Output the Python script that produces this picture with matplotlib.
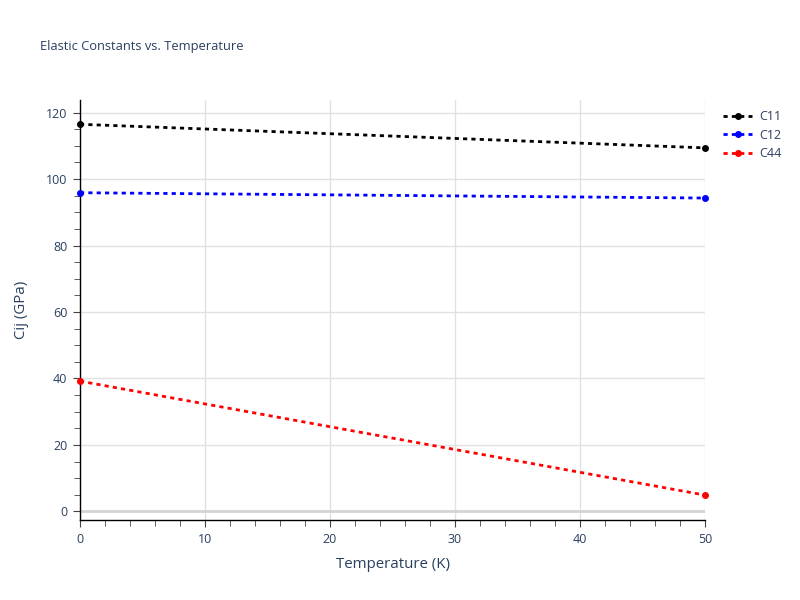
import matplotlib
matplotlib.use("Agg")
import matplotlib.pyplot as plt
from matplotlib.ticker import MultipleLocator

plt.rcParams["font.family"] = ["Open Sans", "DejaVu Sans"]

# data
temperature = [0, 50]
c11 = [116.5, 109.4]
c12 = [95.9, 94.3]
c44 = [39.2, 4.9]

series = [("C11", c11, "black"), ("C12", c12, "blue"), ("C44", c44, "red")]
text_col = "#2a3f5f"

fig = plt.figure(figsize=(8, 6), dpi=100)
ax = fig.add_axes([0.1, 0.1333, 0.78125, 0.70])

for name, vals, col in series:
    ax.plot(temperature, vals, color=col, lw=2, dashes=(1.5, 1.5),
            dash_capstyle="butt", marker="o", ms=4, label=name,
            clip_on=False, zorder=3)

ax.set_xlim(0, 50)
ax.set_ylim(-2.6, 123.8)
ax.xaxis.set_major_locator(MultipleLocator(10))
ax.xaxis.set_minor_locator(MultipleLocator(2))
ax.yaxis.set_major_locator(MultipleLocator(20))
ax.yaxis.set_minor_locator(MultipleLocator(5))

ax.grid(True, which="major", color="#e1e1e1", lw=1)
ax.set_axisbelow(True)
ax.axhline(0, color="#d4d4d4", lw=2, zorder=1)

for s in ["top", "right"]:
    ax.spines[s].set_visible(False)
for s in ["left", "bottom"]:
    ax.spines[s].set_color("black")
    ax.spines[s].set_linewidth(1)

ax.tick_params(which="both", direction="out", colors="#444444",
               labelcolor=text_col, labelsize=9)
ax.tick_params(which="major", length=5, pad=4)
ax.tick_params(which="minor", length=4)

ax.set_xlabel("Temperature (K)", fontsize=10.8, color=text_col, labelpad=8)
ax.set_ylabel("Cij (GPa)", fontsize=10.8, color=text_col, labelpad=12)

fig.text(0.05, 0.923, "Elastic Constants vs. Temperature", fontsize=9.3,
         color=text_col, va="center")

leg = fig.legend(loc="upper left", bbox_to_anchor=(0.898, 0.825),
                 frameon=False, fontsize=9, handlelength=2.3,
                 handletextpad=0.6, labelspacing=0.45, borderaxespad=0)
for t in leg.get_texts():
    t.set_color(text_col)

fig.savefig("out.png", dpi=100)
